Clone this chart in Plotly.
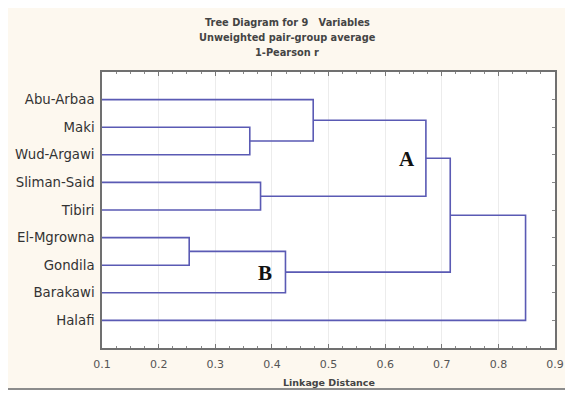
import plotly.graph_objects as go

# ---- data ----
labels = ["Abu-Arbaa", "Maki", "Wud-Argawi", "Sliman-Said", "Tibiri",
          "El-Mgrowna", "Gondila", "Barakawi", "Halafi"]
# merges: (left member, right member, linkage distance); members are leaf names or earlier merge ids
merge_left = ["El-Mgrowna", "Maki", "Sliman-Said", "m0", "Abu-Arbaa", "m4", "m5", "m6"]
merge_right = ["Gondila", "Wud-Argawi", "Tibiri", "Barakawi", "m1", "m2", "m3", "Halafi"]
merge_height = [0.254, 0.361, 0.380, 0.424, 0.473, 0.672, 0.715, 0.848]
cluster_marks = ["A", "B"]
cluster_mark_x = [0.639, 0.388]
cluster_mark_y = [2.14, 6.27]
x_ticks = [0.1, 0.2, 0.3, 0.4, 0.5, 0.6, 0.7, 0.8, 0.9]

LINE = "#5a5ab4"

pos = {name: i for i, name in enumerate(labels)}
hgt = {name: 0.0 for name in labels}
xs, ys = [], []
for k, (a, b, h) in enumerate(zip(merge_left, merge_right, merge_height)):
    ya, yb = pos[a], pos[b]
    xs += [hgt[a], h, h, hgt[b], None]
    ys += [ya, ya, yb, yb, None]
    pos[f"m{k}"] = (ya + yb) / 2
    hgt[f"m{k}"] = h

fig = go.Figure()
fig.add_trace(go.Scatter(x=xs, y=ys, mode="lines", line=dict(color=LINE, width=1.6),
                         hoverinfo="skip", showlegend=False))
fig.add_trace(go.Scatter(x=[0.5], y=[0], yaxis="y2", mode="markers", marker=dict(opacity=0),
                         hoverinfo="skip", showlegend=False))

for t, x, y in zip(cluster_marks, cluster_mark_x, cluster_mark_y):
    fig.add_annotation(x=x, y=y, text=f"<b>{t}</b>", showarrow=False,
                       font=dict(family="Liberation Serif", size=21, color="#111"))

# page offset: browser body margin of 8px
OX, OY = 8, 8
PL, PT, PR, PB = 102, 72, 555, 348  # plot area in page pixels
W = PR - PL
H = PB - PT


def px(x):
    return (x - PL) / W


def py(y):
    return (PB - y) / H


title_lines = ["<b>Tree Diagram for 9&nbsp;&nbsp;&nbsp;Variables</b>",
               "<b>Unweighted pair-group average</b>", "<b>1-Pearson r</b>"]
title_y = [22, 38, 53]
for t, yy in zip(title_lines, title_y):
    fig.add_annotation(xref="paper", yref="paper", x=px(287), y=py(yy),
                       text=t, showarrow=False, xanchor="center", yanchor="middle",
                       font=dict(family="DejaVu Sans", size=9.8, color="#444"))

fig.add_annotation(xref="paper", yref="paper", x=px(329), y=py(382),
                   text="<b>Linkage Distance</b>", showarrow=False, xanchor="center", yanchor="middle",
                   font=dict(family="DejaVu Sans", size=9.5, color="#444"))

# outer cream panel with grey border
fig.add_shape(type="rect", xref="paper", yref="paper", layer="below",
              x0=px(7), x1=px(569), y0=py(389), y1=py(4),
              fillcolor="#fdf8ef", line=dict(color="#8c8c8c", width=2))
fig.add_shape(type="rect", xref="paper", yref="paper", layer="below",
              x0=0, x1=1, y0=0, y1=1, fillcolor="#ffffff", line=dict(width=0))

fig.update_layout(
    width=573 - OX, height=396 - OY,
    margin=dict(l=PL - OX, r=573 - PR, t=PT - OY, b=396 - PB, autoexpand=False),
    paper_bgcolor="#ffffff", plot_bgcolor="rgba(0,0,0,0)",
    xaxis=dict(range=[0.1, 0.9], tickvals=x_ticks, ticktext=[f"{v:.1f}" for v in x_ticks],
               ticks="inside", ticklen=4, tickcolor="#777", showline=True, linecolor="#707070",
               linewidth=1.5, mirror="ticks", showgrid=True, gridcolor="#ececec", gridwidth=1,
               zeroline=False, automargin=False, ticklabelstandoff=5,
               tickfont=dict(family="DejaVu Sans", size=11, color="#555"),
               minor=dict(dtick=0.025, tick0=0.1, ticks="inside", ticklen=2, tickcolor="#888",
                          showgrid=False)),
    yaxis=dict(range=[9, -1], tickvals=list(range(len(labels))), ticktext=labels,
               ticks="", showline=True, linecolor="#707070", linewidth=1.5, mirror=True,
               showgrid=False, zeroline=False, ticklabelstandoff=3, automargin=False,
               tickfont=dict(family="DejaVu Sans", size=13.3, color="#333")),
    yaxis2=dict(range=[9, -1], overlaying="y", side="right", tickvals=list(range(len(labels))),
                showticklabels=False, ticks="inside", ticklen=3, tickcolor="#888",
                showgrid=False, zeroline=False, showline=False, automargin=False),
)

fig.write_html("out.html")
